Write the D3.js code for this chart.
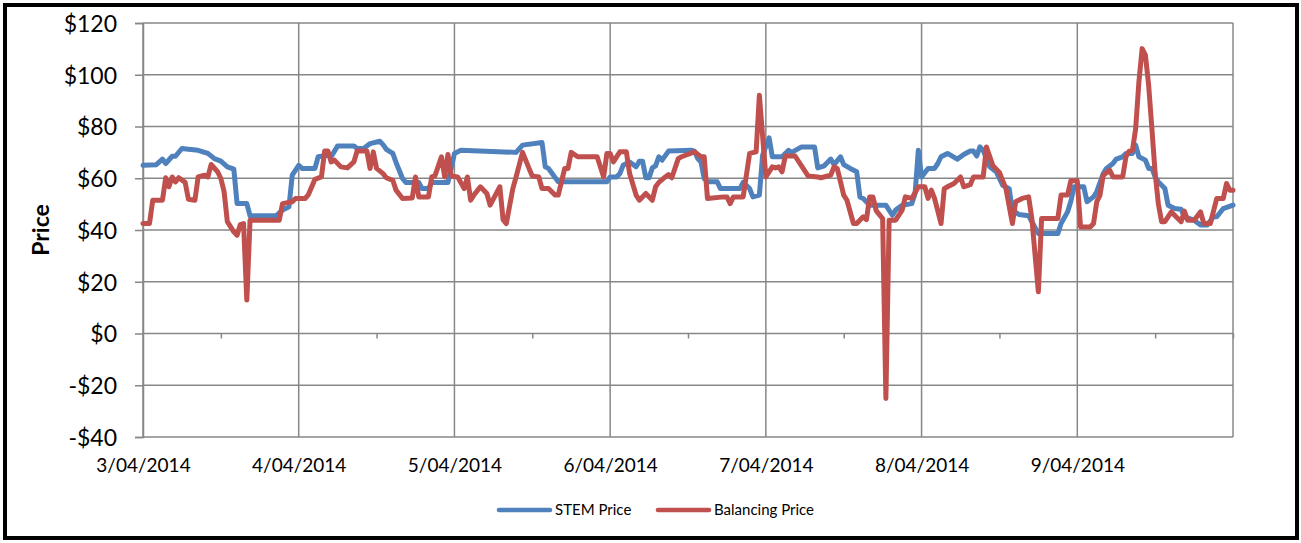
<!DOCTYPE html>
<html>
<head>
<meta charset="utf-8">
<script src="https://cdn.jsdelivr.net/npm/d3@7"></script>
<style>
  html, body { margin: 0; padding: 0; background: #fff; }
  svg { display: block; }
  text { font-family: Lato, "Open Sans", sans-serif; fill: #000; }
</style>
</head>
<body>
<svg id="chart" width="1301" height="543"></svg>
<script>
// ---- data (half-hour trading interval index from 3/04/2014 00:00, price $/MWh) ----
const dayLabels = ["3/04/2014","4/04/2014","5/04/2014","6/04/2014","7/04/2014","8/04/2014","9/04/2014"];
const dayTicks = [0, 48, 96, 144, 192, 240, 288];
const middayTicks = [24, 72, 120, 168, 216, 264, 312, 336];
const yTicks = [-40, -20, 0, 20, 40, 60, 80, 100, 120];
const seriesNames = ["STEM Price", "Balancing Price"];

const stemInterval = [0,4,6,7,9,10,12,14,17,20,22,24,26,28,29,32,33,41,43,45,46,48,49,53,54,57,58,60,65,66,68,70,73,74,75,77,78,80,81,85,86,88,89,94,95,96,98,115,117,123,124,125,128,143,144,146,147,148,150,152,153,154,155,156,157,158,159,160,162,169,170,171,172,173,174,177,178,184,185,187,188,190,191,193,194,197,199,200,203,207,208,210,212,213,215,216,218,220,221,222,224,229,231,232,234,237,238,239,240,242,244,245,246,248,251,253,255,256,257,258,259,261,263,265,267,268,270,273,274,276,282,283,285,286,287,290,291,293,294,296,297,299,300,302,303,305,306,307,309,310,311,312,313,315,316,318,320,321,324,326,328,330,331,333,336];
const stemPrice = [65,65.2,67.4,65.7,68.5,68.5,71.5,71.2,70.8,69.6,67.6,66.6,64.4,63.5,50.2,50.2,45.5,45.5,47.7,49,61.2,65,63.8,63.8,68.3,68.9,68.3,72.5,72.5,71.5,71.5,73.4,74.3,73,71.2,69.6,66.1,59.9,58.4,58.4,56,56,58.4,58.4,63.8,69.6,70.8,70,72.8,73.8,64.4,63.8,58.6,58.6,60.5,60.5,61.8,65,66.3,64.4,66.6,66.6,60.2,60.2,64,64.8,68.3,67,70.5,70.8,70.5,67.6,66.3,59.9,58.6,58.6,56,56,58.4,56,52.8,53.5,68.9,75.6,68.3,68.3,70.8,70,72.1,72.1,64,64.8,67.4,65.3,68.3,65.3,63.8,62.5,52.8,52.2,49.6,49.6,45.7,47.7,49.6,50.2,54.1,70.8,60.5,63.8,63.8,65.7,68.3,69.6,67.4,69.2,70.5,70.5,68.6,72.1,70.8,64.4,62.5,57.3,56,47.7,46,45.5,43.2,38.6,38.6,42.5,47,51,56.7,56.7,50.9,52.8,54.8,61.8,63.8,65.7,67.4,68.3,69.6,69.6,72.8,68.3,67,63.8,63.8,60.5,58.6,56,49.6,48.3,48,45.1,43.8,41.9,41.9,45.1,45.1,48.3,49.6];

const balInterval = [0,2,3,6,7,8,9,10,11,13,14,16,17,19,20,21,23,24,25,26,28,29,30,31,32,33,42,43,46,47,50,51,53,55,56,57,58,59,61,63,65,66,69,70,71,72,74,75,77,78,80,83,84,85,88,89,90,92,93,94,95,97,99,100,101,102,104,106,107,110,111,112,114,115,117,119,120,122,123,125,127,128,130,131,132,134,140,142,143,144,145,147,149,150,152,153,155,157,158,159,161,162,163,165,166,170,172,173,174,179,180,181,182,185,187,189,190,192,194,195,196,197,198,201,205,208,209,212,213,214,216,217,219,220,222,223,224,225,226,228,229,230,232,234,235,237,239,241,242,243,244,246,247,248,250,252,253,255,256,259,260,262,264,266,268,269,271,273,274,276,277,282,283,285,286,288,289,292,293,294,295,296,298,299,302,303,304,305,306,307,308,309,310,311,312,313,314,315,317,318,320,321,322,324,326,327,329,331,333,334,335,336];
const balPrice = [42.5,42.5,51.5,51.5,60.2,56.7,60.5,58.6,60.2,58.4,51.9,51.5,60.5,61.2,60.5,65.3,62.5,59.9,54.8,43.2,39.3,38,42.1,42.5,12.9,43.8,43.8,50.2,50.9,52.2,52.2,53.7,59.6,60.5,70.5,70.5,66.3,67,64.4,64,66.3,70.5,70.5,63.8,70.2,63.8,61.8,60.2,59.2,55.4,52.2,52.4,60.5,52.8,52.8,60.5,60.9,68.3,60.5,69.2,60.9,60.5,56,60.5,51.5,53.5,56.7,54.1,49.6,56.7,44,42.5,56,60.5,70,63.8,60.9,60.5,56,56,53.5,53.5,63.8,63.8,70,68.3,68.3,60.5,69.6,69.6,66.3,70.2,70.2,61.8,53.5,51.5,54.1,51.5,56.7,58.4,60.5,61.4,60.2,67.6,68.3,70.2,68.3,68.3,52.2,52.8,52.8,50.2,52.8,52.8,69.6,70.2,92.1,60.5,64.4,64,64.4,62.5,68.6,68.6,60.9,60.5,60.2,61.2,64.4,63.8,53.5,51.5,42.5,42.5,45.1,44,52.8,52.8,47.5,44.4,-25.1,43.8,43.8,47.7,52.8,52.2,56.7,56.7,52.2,55.4,52.2,42.5,56,56.7,58,60.5,56.7,57.5,60.5,60.5,72.1,64.8,62.2,56,42.5,50.9,52.2,52.8,44.4,16.1,44.4,44.4,53.5,53.5,59,59,41.2,41.2,42.5,50.9,53.5,61.2,63.1,60.5,60.5,68.3,70.5,70.8,79.2,97.3,110.1,107.6,95.9,79.2,62,50,43.2,43.2,47,45.7,43.2,47.3,43.8,43.8,47,42.5,42.5,52.2,52.2,58,55.4,55.4];

// ---- layout ----
const W = 1301, H = 543;
const plot = { left: 143, right: 1233, top: 23, bottom: 437 };
const colors = { stem: "#4F81BD", bal: "#C0504D", grid: "#878787" };

const svg = d3.select("#chart");
svg.append("rect").attr("x", 0).attr("y", 0).attr("width", W).attr("height", H).attr("fill", "#fff");
// outer black frame
svg.append("rect").attr("x", 5).attr("y", 5).attr("width", 1292).attr("height", 533)
  .attr("fill", "none").attr("stroke", "#000").attr("stroke-width", 4);

const x = d3.scaleLinear().domain([0, 336]).range([plot.left, plot.right]);
const y = d3.scaleLinear().domain([-40, 120]).range([plot.bottom, plot.top]);

// horizontal gridlines
svg.append("g").selectAll("line").data(yTicks).join("line")
  .attr("x1", plot.left).attr("x2", plot.right)
  .attr("y1", d => y(d)).attr("y2", d => y(d))
  .attr("stroke", colors.grid).attr("stroke-width", 1.5);

// vertical gridlines (days) + right edge
svg.append("g").selectAll("line").data(dayTicks.concat([336])).join("line")
  .attr("x1", d => x(d)).attr("x2", d => x(d))
  .attr("y1", plot.top).attr("y2", plot.bottom)
  .attr("stroke", colors.grid).attr("stroke-width", 1.5);

// y axis
const yAxis = d3.axisLeft(y).tickValues(yTicks).tickSize(8).tickPadding(18)
  .tickFormat(d => (d < 0 ? "-$" + Math.abs(d) : "$" + d));
const gy = svg.append("g").attr("transform", `translate(${plot.left},0)`).call(yAxis);
gy.select(".domain").attr("stroke", colors.grid).attr("stroke-width", 1.5);
gy.selectAll(".tick line").attr("stroke", colors.grid).attr("stroke-width", 1.5);
gy.selectAll(".tick text").attr("font-family", "Lato, sans-serif").attr("font-size", 23)
  .attr("fill", "#000").attr("dy", "0.36em");

// x axis crossing at $0 with minor (midday) ticks
const xAxisMinor = d3.axisBottom(x).tickValues(middayTicks).tickSize(5).tickFormat("");
const gxm = svg.append("g").attr("transform", `translate(0,${y(0)})`).call(xAxisMinor);
gxm.select(".domain").remove();
gxm.selectAll(".tick line").attr("stroke", colors.grid).attr("stroke-width", 1.5);

// x labels at bottom
const xAxis = d3.axisBottom(x).tickValues(dayTicks).tickSize(0).tickPadding(22)
  .tickFormat((d, i) => dayLabels[i]);
const gx = svg.append("g").attr("transform", `translate(0,${plot.bottom})`).call(xAxis);
gx.select(".domain").remove();
gx.selectAll(".tick text").attr("font-family", "Lato, sans-serif").attr("font-size", 19).attr("fill", "#000");

// y title
svg.append("text").attr("transform", `translate(49,230) rotate(-90)`)
  .attr("text-anchor", "middle").attr("font-size", 23).attr("font-weight", "bold").text("Price");

// lines
const line = d3.line().x(d => x(d[0])).y(d => y(d[1]));
const stemData = stemInterval.map((t, i) => [t, stemPrice[i]]);
const balData = balInterval.map((t, i) => [t, balPrice[i]]);

svg.append("path").datum(stemData).attr("d", line)
  .attr("fill", "none").attr("stroke", colors.stem).attr("stroke-width", 5)
  .attr("stroke-linejoin", "round").attr("stroke-linecap", "round");
svg.append("path").datum(balData).attr("d", line)
  .attr("fill", "none").attr("stroke", colors.bal).attr("stroke-width", 5)
  .attr("stroke-linejoin", "round").attr("stroke-linecap", "round");

// legend
const legend = [
  { name: seriesNames[0], color: colors.stem, x0: 499, x1: 550, tx: 555 },
  { name: seriesNames[1], color: colors.bal, x0: 658, x1: 709, tx: 714 }
];
const lg = svg.append("g");
legend.forEach(l => {
  lg.append("line").attr("x1", l.x0).attr("x2", l.x1).attr("y1", 510).attr("y2", 510)
    .attr("stroke", l.color).attr("stroke-width", 4.5).attr("stroke-linecap", "round");
  lg.append("text").attr("x", l.tx).attr("y", 515).attr("font-size", 15).text(l.name);
});
</script>
</body>
</html>
